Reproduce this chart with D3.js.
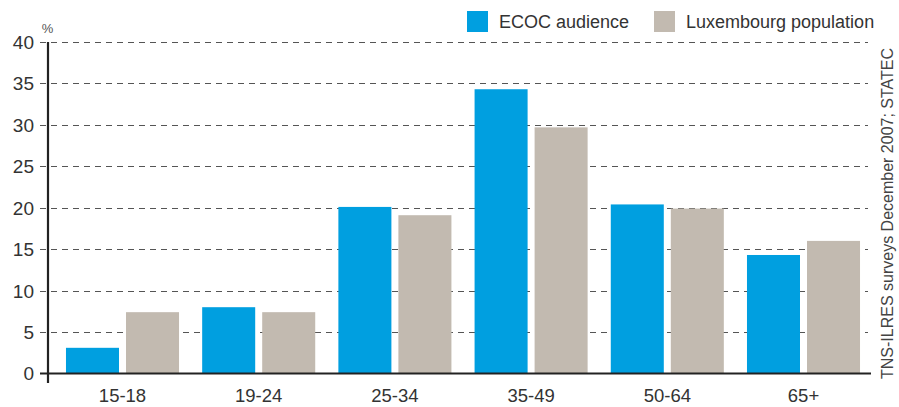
<!DOCTYPE html>
<html>
<head>
<meta charset="utf-8">
<script src="https://cdnjs.cloudflare.com/ajax/libs/d3/7.8.5/d3.min.js"></script>
<style>
  html, body { margin: 0; padding: 0; background: #fff; }
  svg { display: block; font-family: "Liberation Sans", Arial, sans-serif; }
</style>
</head>
<body>
<svg id="chart" width="899" height="407"></svg>
<script>
// Age groups and shares (%)
const categories = ["15-18", "19-24", "25-34", "35-49", "50-64", "65+"];
const seriesNames = ["ECOC audience", "Luxembourg population"];
const ecocAudience = [3.1, 8.0, 20.1, 34.3, 20.4, 14.3];
const luxPopulation = [7.4, 7.4, 19.1, 29.7, 19.9, 16.0];
const yTicks = [0, 5, 10, 15, 20, 25, 30, 35, 40];
const sourceText = "TNS-ILRES surveys December 2007; STATEC";

const colors = { "ECOC audience": "#009fe0", "Luxembourg population": "#c2bab0" };
const rows = categories.map((c, i) => ({
  cat: c,
  values: [
    { key: seriesNames[0], value: ecocAudience[i] },
    { key: seriesNames[1], value: luxPopulation[i] }
  ]
}));

const svg = d3.select("#chart");
const axisX = 48, gridLeft = 40, gridRight = 868, baseRight = 871;

const y = d3.scaleLinear().domain([0, 40]).range([373.5, 42]);
const x0 = d3.scaleBand().domain(categories).range([54.4, 871.6])
  .paddingInner(0.17).paddingOuter(0.085);
const x1 = d3.scaleBand().domain(seriesNames).range([0, x0.bandwidth()])
  .paddingInner(0.1167).paddingOuter(0);

// Dashed gridlines (the left end doubles as the tick mark)
svg.append("g").selectAll("line").data(yTicks.filter(t => t > 0)).join("line")
  .attr("x1", gridLeft).attr("x2", gridRight)
  .attr("y1", d => Math.round(y(d)) + 0.5).attr("y2", d => Math.round(y(d)) + 0.5)
  .attr("stroke", "#555").attr("stroke-width", 1.2)
  .attr("stroke-dasharray", "6,5");

// Bars
const groups = svg.append("g").selectAll("g").data(rows).join("g")
  .attr("transform", d => `translate(${x0(d.cat)},0)`);
groups.selectAll("rect").data(d => d.values).join("rect")
  .attr("x", d => x1(d.key))
  .attr("width", x1.bandwidth())
  .attr("y", d => y(d.value))
  .attr("height", d => y(0) - y(d.value))
  .attr("fill", d => colors[d.key]);

// Y axis labels
const yAxis = d3.axisLeft(y).tickValues(yTicks).tickSize(0).tickPadding(0);
const yG = svg.append("g").attr("transform", `translate(34,0)`).call(yAxis);
yG.select(".domain").remove();
yG.selectAll("text").attr("font-size", 19).attr("fill", "#333")
  .attr("font-family", "Liberation Sans, Arial, sans-serif").attr("dy", "0.34em");

// Axis lines
svg.append("line").attr("x1", axisX).attr("x2", axisX)
  .attr("y1", y(40)).attr("y2", 383)
  .attr("stroke", "#222").attr("stroke-width", 2.2);
svg.append("line").attr("x1", gridLeft).attr("x2", baseRight)
  .attr("y1", y(0)).attr("y2", y(0))
  .attr("stroke", "#222").attr("stroke-width", 2.2);

// Category labels
const xAxis = d3.axisBottom(x0).tickSize(0).tickPadding(0);
const xG = svg.append("g").attr("transform", `translate(0,402)`).call(xAxis);
xG.select(".domain").remove();
xG.selectAll("text").attr("font-size", 18.5).attr("fill", "#333")
  .attr("font-family", "Liberation Sans, Arial, sans-serif").attr("dy", "0");

// Unit label
svg.append("text").attr("x", 47.5).attr("y", 33).attr("text-anchor", "middle")
  .attr("font-size", 13).attr("fill", "#555").text("%");

// Legend
const legend = svg.append("g");
const legendX = [467, 654];
seriesNames.forEach((s, i) => {
  legend.append("rect").attr("x", legendX[i]).attr("y", 11)
    .attr("width", 21).attr("height", 21).attr("fill", colors[s]);
  legend.append("text").attr("x", legendX[i] + 32).attr("y", 28)
    .attr("font-size", 18).attr("fill", "#333").text(s);
});

// Source note
svg.append("text")
  .attr("transform", "translate(893,379) rotate(-90)")
  .attr("font-size", 16).attr("fill", "#444").text(sourceText);
</script>
</body>
</html>
